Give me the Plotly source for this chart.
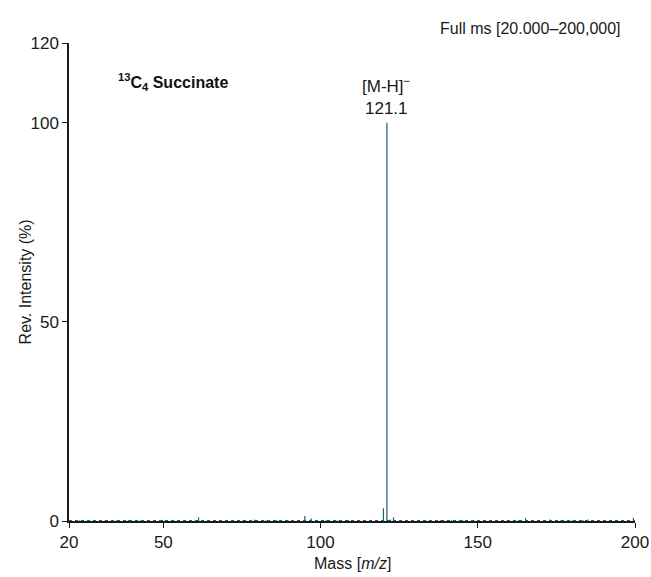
import plotly.graph_objects as go

# Centroided peaks of the full-scan spectrum (m/z, relative intensity %)
peak_mz = [23.4, 27.8, 31.5, 35.2, 38.9, 42.6, 45.1, 49.7, 53.3, 56.8, 61.2, 64.5,
           68.3, 71.9, 75.4, 79.0, 82.6, 86.1, 89.7, 93.2, 95.0, 97.0, 101.8, 105.3,
           108.9, 112.4, 115.8, 120.0, 121.1, 122.2, 123.2, 127.5, 131.0, 134.6,
           138.1, 141.7, 145.2, 148.8, 152.3, 155.9, 159.4, 163.0, 165.2, 169.1,
           173.0, 176.4, 180.0, 183.5, 185.0, 188.7, 192.2, 195.8, 199.5]
peak_int = [0.2, 0.2, 0.15, 0.2, 0.2, 0.15, 0.2, 0.3, 0.2, 0.2, 0.9, 0.2,
            0.2, 0.15, 0.2, 0.35, 0.2, 0.2, 0.15, 0.2, 1.25, 0.6, 0.2, 0.15,
            0.2, 0.2, 0.2, 3.2, 100.0, 0.4, 0.9, 0.2, 0.2, 0.15,
            0.2, 0.2, 0.2, 0.15, 0.2, 0.2, 0.15, 0.2, 0.7, 0.2,
            0.35, 0.2, 0.15, 0.2, 0.35, 0.2, 0.2, 0.2, 0.8]

base_label = "121.1"
base_ion = "[M-H]<sup>\u2212</sup>"

x_ticks = [20, 50, 100, 150, 200]
y_ticks = [0, 50, 100, 120]

FONT = "Liberation Sans, Arial, Helvetica, sans-serif"
STICK = "#15607a"
INK = "#1a1a1a"

# Build stick spectrum: one vertical segment per peak
xs, ys = [], []
for mz, it in zip(peak_mz, peak_int):
    xs += [mz, mz, None]
    ys += [0, it, None]

fig = go.Figure()
# thin noisy baseline
fig.add_trace(go.Scatter(x=[20, 200], y=[0.12, 0.12], mode="lines",
                         line=dict(color=STICK, width=1, dash="dot"),
                         hoverinfo="skip", showlegend=False))
fig.add_trace(go.Scatter(x=xs, y=ys, mode="lines",
                         line=dict(color=STICK, width=1.2),
                         hoverinfo="skip", showlegend=False))

top_int = max(peak_int)
top_mz = peak_mz[peak_int.index(top_int)]
fig.add_annotation(x=top_mz, y=top_int, text=base_ion + "<br>" + base_label,
                   showarrow=False, yanchor="bottom", yshift=3,
                   font=dict(family=FONT, size=17, color=INK),
                   align="center")

fig.add_annotation(xref="paper", yref="paper", x=0.083, y=0.918,
                   text="<b><sup>13</sup>C<sub>4</sub> Succinate</b>",
                   showarrow=False, xanchor="left", yanchor="middle",
                   font=dict(family=FONT, size=16, color="#111"))

fig.add_annotation(xref="paper", yref="paper", x=0.978, y=1.03,
                   text="Full ms [20.000\u2013200,000]",
                   showarrow=False, xanchor="right", yanchor="middle",
                   font=dict(family=FONT, size=16, color=INK))

# y axis title placed close to the tick labels
fig.add_annotation(xref="paper", yref="paper", x=-0.077, y=0.5,
                   text="Rev. Intensity (%)", textangle=-90,
                   showarrow=False, xanchor="center", yanchor="middle",
                   font=dict(family=FONT, size=16, color=INK))

# x axis title
fig.add_annotation(xref="paper", yref="paper", x=0.5, y=-0.088,
                   text="Mass [<i>m/z</i>]",
                   showarrow=False, xanchor="center", yanchor="middle",
                   font=dict(family=FONT, size=16, color=INK))

fig.update_layout(
    width=651, height=577,
    margin=dict(l=69, r=16, t=43, b=56),
    paper_bgcolor="white", plot_bgcolor="white",
    font=dict(family=FONT, size=17, color=INK),
    xaxis=dict(range=[20, 200], tickvals=x_ticks, ticks="outside", ticklen=5,
               tickcolor=INK, showline=True, linecolor=INK, linewidth=1.5,
               showgrid=False, zeroline=False, tickfont=dict(size=17),
               automargin=False),
    yaxis=dict(range=[0, 120], tickvals=y_ticks, ticks="outside", ticklen=5,
               tickcolor=INK, showline=True, linecolor=INK, linewidth=1.5,
               showgrid=False, zeroline=False, tickfont=dict(size=17),
               automargin=False),
)

fig.write_html("out.html")
